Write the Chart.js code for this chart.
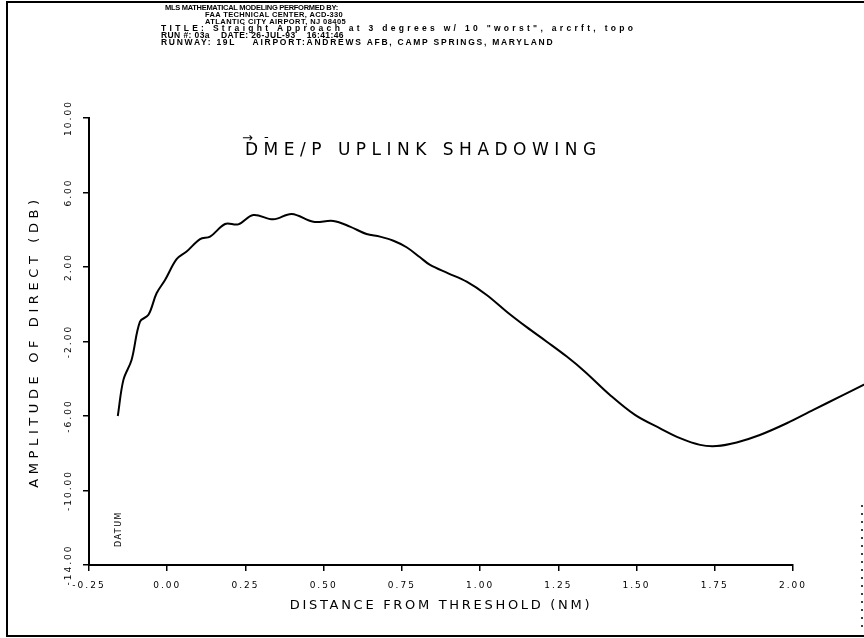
<!DOCTYPE html>
<html><head><meta charset="utf-8">
<script src="https://cdn.jsdelivr.net/npm/chart.js@4.4.1/dist/chart.umd.min.js"></script>
<style>html,body{margin:0;padding:0;background:#fff;overflow:hidden}#wrap{width:864px;height:638px;position:relative}</style>
</head><body><div id="wrap"><canvas id="c" width="864" height="638"></canvas></div>
<script>
// ---- data ----
const distanceNM = [-0.158,-0.140,-0.114,-0.087,-0.060,-0.034,-0.007,0.030,0.062,0.105,0.137,0.185,0.227,0.275,0.339,0.398,0.467,0.531,0.584,0.637,0.680,0.723,0.765,0.808,0.840,0.898,0.957,1.021,1.085,1.149,1.213,1.277,1.335,1.415,1.495,1.575,1.639,1.703,1.756,1.820,1.894,1.980,2.065,2.150,2.240];
const amplitudeDB = [-6.00,-4.06,-2.99,-0.93,-0.57,0.59,1.30,2.42,2.83,3.50,3.63,4.31,4.29,4.79,4.56,4.85,4.43,4.47,4.17,3.77,3.63,3.41,3.06,2.52,2.11,1.66,1.21,0.50,-0.40,-1.23,-2.01,-2.81,-3.62,-4.87,-5.94,-6.66,-7.19,-7.55,-7.61,-7.42,-7.02,-6.39,-5.67,-4.96,-4.20];
const xTickValues = [-0.25,0.00,0.25,0.50,0.75,1.00,1.25,1.50,1.75,2.00];
const yTickValues = [-14,-10,-6,-2,2,6,10];
const xRange = [-0.25, 2.00];
const yRange = [-14, 10];
const headerLines = [
  'MLS MATHEMATICAL MODELING PERFORMED BY:',
  'FAA TECHNICAL CENTER, ACD-330',
  'ATLANTIC CITY AIRPORT, NJ 08405',
  'TITLE: Straight Approach at 3 degrees w/ 10 "worst", arcrft, topo',
  'RUN #: 03a    DATE: 26-JUL-93    16:41:46',
  'RUNWAY: 19L    AIRPORT:ANDREWS AFB, CAMP SPRINGS, MARYLAND'
];
const chartTitle = 'DME/P UPLINK SHADOWING';
const xAxisTitle = 'DISTANCE FROM THRESHOLD (NM)';
const yAxisTitle = 'AMPLITUDE OF DIRECT (DB)';
const datumLabel = 'DATUM';
const datumX = -0.155;

// ---- layout / style ----
const FONT = "'DejaVu Sans', sans-serif";
const HFONT = "'Liberation Sans', Arial, sans-serif";
const headerLayout = [
  {x:165, y:8,  w:173, s:7.5}, {x:205, y:15, w:138, s:7.5}, {x:205, y:22, w:141, s:7.5},
  {x:161, y:29, w:475, s:8.5}, {x:161, y:36, w:183, s:8.5}, {x:161, y:43, w:393, s:8.5}
];

const points = distanceNM.map((x,i)=>({x:x, y:amplitudeDB[i]}));

function spaced(fn, spacing){
  return function(){
    const ctx = this.ctx;
    ctx.save();
    ctx.letterSpacing = spacing;
    fn.apply(this, arguments);
    ctx.restore();
  };
}

const decor = {
  id:'decor',
  beforeDraw(chart){
    const ctx = chart.ctx;
    ctx.fillStyle = '#fff';
    ctx.fillRect(0,0,chart.width,chart.height);
    ctx.letterSpacing = '2px';
  },
  afterDraw(chart){
    const ctx = chart.ctx;
    const xs = chart.scales.x;
    ctx.save();
    // page frame
    ctx.strokeStyle = '#000';
    ctx.lineWidth = 2;
    ctx.beginPath();
    ctx.moveTo(864,2); ctx.lineTo(7,2); ctx.lineTo(7,636); ctx.lineTo(864,636);
    ctx.stroke();
    ctx.lineWidth = 1.5;
    ctx.setLineDash([2,6]);
    ctx.beginPath(); ctx.moveTo(862,505); ctx.lineTo(862,628); ctx.stroke();
    ctx.setLineDash([]);
    // header
    ctx.fillStyle = '#000';
    ctx.textBaseline = 'middle';
    ctx.textAlign = 'left';
    headerLines.forEach((t,i)=>{
      const L = headerLayout[i];
      ctx.font = "bold " + L.s + "px " + HFONT;
      ctx.letterSpacing = '0px';
      const w = ctx.measureText(t).width;
      const sp = Math.max(-0.3, (L.w - w)/t.length);
      ctx.letterSpacing = sp.toFixed(2)+'px';
      ctx.fillText(t, L.x, L.y);
    });
    // chart title
    ctx.font = "17px " + FONT;
    ctx.letterSpacing = '5.5px';
    ctx.textAlign = 'left';
    ctx.fillText(chartTitle, 245, 151);
    ctx.font = "13px " + FONT;
    ctx.letterSpacing = '0px';
    ctx.fillText('\u2192', 242, 139);
    ctx.fillText('-', 264, 138);
    // datum label
    ctx.save();
    ctx.translate(xs.getPixelForValue(datumX), 529);
    ctx.rotate(-Math.PI/2);
    ctx.font = "8px " + FONT;
    ctx.letterSpacing = '1.5px';
    ctx.textAlign = 'center';
    ctx.fillText(datumLabel, 0, 0);
    ctx.restore();
    ctx.restore();
  }
};

new Chart(document.getElementById('c'), {
  type:'line',
  data:{ datasets:[{
    data: points,
    borderColor:'#000',
    borderWidth:2,
    pointRadius:0,
    tension:0.35,
    fill:false,
    clip:false
  }]},
  options:{
    responsive:false,
    devicePixelRatio:1,
    animation:false,
    layout:{ padding:{left:0, right:71, top:118, bottom:0} },
    plugins:{ legend:{display:false}, tooltip:{enabled:false}, title:{display:false} },
    scales:{
      x:{
        type:'linear', bounds:'data',
        afterBuildTicks(s){ s.min = xRange[0]; s.max = xRange[1]; s.ticks = xTickValues.map(v=>({value:v})); },
        afterFit(s){ s.height = 73; },
        afterUpdate(s){ if(!s._sp){ s._sp = true; s.drawTitle = spaced(s.drawTitle, '2.7px'); } },
        grid:{ display:true, drawOnChartArea:false, drawTicks:true, tickLength:6, color:'#000', lineWidth:1.5 },
        border:{ display:true, color:'#000', width:2 },
        ticks:{ color:'#000', font:{family:FONT, size:9}, padding:9, maxRotation:0, minRotation:0,
          callback:v=>Number(v).toFixed(2) },
        title:{ display:true, text:xAxisTitle, color:'#000', font:{family:FONT, size:13}, padding:{top:0,bottom:25} }
      },
      y:{
        type:'linear', min:yRange[0], max:yRange[1],
        afterBuildTicks(s){ s.ticks = yTickValues.map(v=>({value:v})); },
        afterFit(s){ s.width = 89; },
        afterUpdate(s){ if(!s._sp){ s._sp = true; s.drawTitle = spaced(s.drawTitle, '4.6px'); } },
        grid:{ display:true, drawOnChartArea:false, drawTicks:true, tickLength:6, color:'#000', lineWidth:1.5 },
        border:{ display:true, color:'#000', width:2 },
        ticks:{ color:'#000', font:{family:FONT, size:9}, padding:0, minRotation:90, maxRotation:90, crossAlign:'center',
          callback:v=>Number(v).toFixed(2) },
        title:{ display:true, text:yAxisTitle, color:'#000', font:{family:FONT, size:13}, padding:{top:27,bottom:0} }
      }
    }
  },
  plugins:[decor]
});
</script>
</body></html>
